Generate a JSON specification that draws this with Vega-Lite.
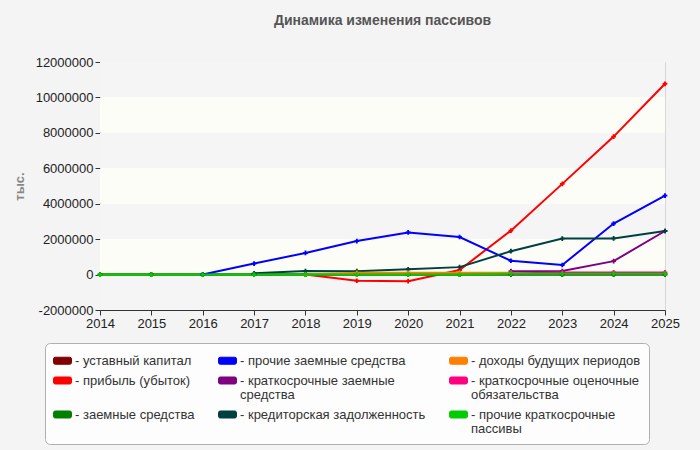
{
  "$schema": "https://vega.github.io/schema/vega-lite/v6.json",
  "width": 565,
  "height": 248,
  "autosize": {"type": "none"},
  "padding": {"left": 100, "top": 62, "right": 35, "bottom": 140},
  "background": "#f4f4f4",
  "title": {"text": "Динамика изменения пассивов", "font": "Liberation Sans", "fontSize": 14, "fontWeight": "bold", "color": "#555555", "anchor": "middle", "offset": 28},
  "config": {"view": {"stroke": "#d8d8d8", "fill": "#ffffff"}, "font": "Liberation Sans"},
  "datasets": {
    "bands": [
      {"year": 2014, "year2": 2025, "value": 10000000, "value2": 12000000, "kind": "h"},
      {"year": 2014, "year2": 2025, "value": 8000000, "value2": 10000000, "kind": "c"},
      {"year": 2014, "year2": 2025, "value": 6000000, "value2": 8000000, "kind": "h"},
      {"year": 2014, "year2": 2025, "value": 4000000, "value2": 6000000, "kind": "c"},
      {"year": 2014, "year2": 2025, "value": 2000000, "value2": 4000000, "kind": "h"},
      {"year": 2014, "year2": 2025, "value": 0, "value2": 2000000, "kind": "c"},
      {"year": 2014, "year2": 2025, "value": -2000000, "value2": 0, "kind": "h"}
    ],
    "gx": [{"year": 2015}, {"year": 2016}, {"year": 2017}, {"year": 2018}, {"year": 2019}, {"year": 2020}, {"year": 2021}, {"year": 2022}, {"year": 2023}, {"year": 2024}],
    "gy": [{"value": 0}, {"value": 2000000}, {"value": 4000000}, {"value": 6000000}, {"value": 8000000}, {"value": 10000000}],
    "series": [
      {"series": "уставный капитал", "year": 2014, "value": 10000},
      {"series": "уставный капитал", "year": 2015, "value": 10000},
      {"series": "уставный капитал", "year": 2016, "value": 10000},
      {"series": "уставный капитал", "year": 2017, "value": 10000},
      {"series": "уставный капитал", "year": 2018, "value": 10000},
      {"series": "уставный капитал", "year": 2019, "value": 10000},
      {"series": "уставный капитал", "year": 2020, "value": 10000},
      {"series": "уставный капитал", "year": 2021, "value": 10000},
      {"series": "уставный капитал", "year": 2022, "value": 10000},
      {"series": "уставный капитал", "year": 2023, "value": 10000},
      {"series": "уставный капитал", "year": 2024, "value": 10000},
      {"series": "уставный капитал", "year": 2025, "value": 10000},
      {"series": "прибыль (убыток)", "year": 2018, "value": 0},
      {"series": "прибыль (убыток)", "year": 2019, "value": -350000},
      {"series": "прибыль (убыток)", "year": 2020, "value": -370000},
      {"series": "прибыль (убыток)", "year": 2021, "value": 260000},
      {"series": "прибыль (убыток)", "year": 2022, "value": 2480000},
      {"series": "прибыль (убыток)", "year": 2023, "value": 5120000},
      {"series": "прибыль (убыток)", "year": 2024, "value": 7790000},
      {"series": "прибыль (убыток)", "year": 2025, "value": 10770000},
      {"series": "заемные средства", "year": 2014, "value": 0},
      {"series": "заемные средства", "year": 2015, "value": 0},
      {"series": "заемные средства", "year": 2016, "value": 0},
      {"series": "заемные средства", "year": 2017, "value": 0},
      {"series": "заемные средства", "year": 2018, "value": 0},
      {"series": "заемные средства", "year": 2019, "value": 0},
      {"series": "заемные средства", "year": 2020, "value": 0},
      {"series": "заемные средства", "year": 2021, "value": 0},
      {"series": "заемные средства", "year": 2022, "value": 0},
      {"series": "заемные средства", "year": 2023, "value": 0},
      {"series": "заемные средства", "year": 2024, "value": 0},
      {"series": "заемные средства", "year": 2025, "value": 0},
      {"series": "прочие заемные средства", "year": 2016, "value": 0},
      {"series": "прочие заемные средства", "year": 2017, "value": 620000},
      {"series": "прочие заемные средства", "year": 2018, "value": 1220000},
      {"series": "прочие заемные средства", "year": 2019, "value": 1890000},
      {"series": "прочие заемные средства", "year": 2020, "value": 2380000},
      {"series": "прочие заемные средства", "year": 2021, "value": 2120000},
      {"series": "прочие заемные средства", "year": 2022, "value": 780000},
      {"series": "прочие заемные средства", "year": 2023, "value": 540000},
      {"series": "прочие заемные средства", "year": 2024, "value": 2880000},
      {"series": "прочие заемные средства", "year": 2025, "value": 4460000},
      {"series": "краткосрочные заемные средства", "year": 2022, "value": 190000},
      {"series": "краткосрочные заемные средства", "year": 2023, "value": 200000},
      {"series": "краткосрочные заемные средства", "year": 2024, "value": 760000},
      {"series": "краткосрочные заемные средства", "year": 2025, "value": 2460000},
      {"series": "кредиторская задолженность", "year": 2017, "value": 70000},
      {"series": "кредиторская задолженность", "year": 2018, "value": 200000},
      {"series": "кредиторская задолженность", "year": 2019, "value": 190000},
      {"series": "кредиторская задолженность", "year": 2020, "value": 300000},
      {"series": "кредиторская задолженность", "year": 2021, "value": 420000},
      {"series": "кредиторская задолженность", "year": 2022, "value": 1320000},
      {"series": "кредиторская задолженность", "year": 2023, "value": 2030000},
      {"series": "кредиторская задолженность", "year": 2024, "value": 2040000},
      {"series": "кредиторская задолженность", "year": 2025, "value": 2460000},
      {"series": "доходы будущих периодов", "year": 2018, "value": 0},
      {"series": "доходы будущих периодов", "year": 2019, "value": 100000},
      {"series": "доходы будущих периодов", "year": 2020, "value": 100000},
      {"series": "доходы будущих периодов", "year": 2021, "value": 100000},
      {"series": "доходы будущих периодов", "year": 2022, "value": 100000},
      {"series": "краткосрочные оценочные обязательства", "year": 2022, "value": 60000},
      {"series": "краткосрочные оценочные обязательства", "year": 2023, "value": 120000},
      {"series": "краткосрочные оценочные обязательства", "year": 2024, "value": 120000},
      {"series": "краткосрочные оценочные обязательства", "year": 2025, "value": 120000},
      {"series": "прочие краткосрочные пассивы", "year": 2014, "value": 0},
      {"series": "прочие краткосрочные пассивы", "year": 2015, "value": 0},
      {"series": "прочие краткосрочные пассивы", "year": 2016, "value": 0},
      {"series": "прочие краткосрочные пассивы", "year": 2017, "value": 0},
      {"series": "прочие краткосрочные пассивы", "year": 2018, "value": 0},
      {"series": "прочие краткосрочные пассивы", "year": 2019, "value": 0},
      {"series": "прочие краткосрочные пассивы", "year": 2020, "value": 0},
      {"series": "прочие краткосрочные пассивы", "year": 2021, "value": 0},
      {"series": "прочие краткосрочные пассивы", "year": 2022, "value": 50000},
      {"series": "прочие краткосрочные пассивы", "year": 2023, "value": 50000},
      {"series": "прочие краткосрочные пассивы", "year": 2024, "value": 50000},
      {"series": "прочие краткосрочные пассивы", "year": 2025, "value": 50000}
    ]
  },
  "encoding": {
    "x": {
      "field": "year", "type": "quantitative",
      "scale": {"domain": [2014, 2025], "nice": false, "zero": false},
      "axis": {"values": [2014, 2015, 2016, 2017, 2018, 2019, 2020, 2021, 2022, 2023, 2024, 2025], "format": "d", "title": null, "grid": false, "domainColor": "#333333", "tickColor": "#333333", "tickSize": 5, "labelFontSize": 13, "labelColor": "#222222", "labelPadding": 2, "labelFont": "Liberation Sans", "labelFlush": false, "labelOverlap": false}
    },
    "y": {
      "field": "value", "type": "quantitative",
      "scale": {"domain": [-2000000, 12000000], "nice": false, "zero": false},
      "axis": {"values": [-2000000, 0, 2000000, 4000000, 6000000, 8000000, 10000000, 12000000], "labelExpr": "'' + datum.value", "title": "тыс.", "titleX": -81, "titleY": 124, "titleBaseline": "middle", "titleFontSize": 13, "titleColor": "#888888", "titleFontWeight": "bold", "titleFont": "Liberation Sans", "grid": false, "domainColor": "#333333", "tickColor": "#333333", "tickSize": 5, "labelFontSize": 13, "labelColor": "#222222", "labelPadding": 2, "labelFont": "Liberation Sans", "labelOverlap": false}
    }
  },
  "layer": [
    {
      "data": {"name": "bands"},
      "mark": {"type": "rect"},
      "encoding": {
        "x2": {"field": "year2"},
        "y2": {"field": "value2"},
        "fill": {"condition": {"test": "datum.kind == 'h'", "value": "#f5f5f5"}, "value": "#fdfdf8"}
      }
    },
    {
      "data": {"name": "gx"},
      "mark": {"type": "rule", "stroke": "#dddddd", "strokeDash": [4, 4], "strokeWidth": 1},
      "encoding": {"y": {"datum": -2000000}, "y2": {"datum": 12000000}}
    },
    {
      "data": {"name": "gy"},
      "mark": {"type": "rule", "stroke": "#dddddd", "strokeDash": [4, 4], "strokeWidth": 1},
      "encoding": {"x": {"datum": 2014}, "x2": {"datum": 2025}}
    },
    {
      "data": {"name": "series"},
      "encoding": {
        "color": {
          "field": "series", "type": "nominal",
          "scale": {
            "domain": ["уставный капитал", "прибыль (убыток)", "заемные средства", "прочие заемные средства", "краткосрочные заемные средства", "кредиторская задолженность", "доходы будущих периодов", "краткосрочные оценочные обязательства", "прочие краткосрочные пассивы"],
            "range": ["#800000", "#ff0000", "#008000", "#0000ff", "#800080", "#004040", "#ff8000", "#ff0080", "#00cc00"]
          },
          "legend": {
            "orient": "none", "legendX": -55, "legendY": 281, "columns": 3, "columnPadding": 21, "rowPadding": 3,
            "title": null, "padding": 8, "fillColor": "#fdfdfd", "strokeColor": "#b0b0b0", "cornerRadius": 5,
            "symbolType": "M-0.8,-0.39L0.8,-0.39Q1,-0.39 1,-0.19L1,0.19Q1,0.39 0.8,0.39L-0.8,0.39Q-1,0.39 -1,0.19L-1,-0.19Q-1,-0.39 -0.8,-0.39Z", "symbolSize": 324, "symbolStrokeColor": "#777777", "symbolStrokeWidth": 1,
            "labelFont": "Liberation Sans", "labelFontSize": 13, "labelColor": "#333333", "labelLimit": 400, "labelOffset": 3,
            "labelExpr": "datum.label == 'краткосрочные заемные средства' ? ['- краткосрочные заемные', '\u00a0\u00a0\u00a0средства'] : datum.label == 'краткосрочные оценочные обязательства' ? ['- краткосрочные оценочные', '\u00a0\u00a0\u00a0обязательства'] : datum.label == 'прочие краткосрочные пассивы' ? ['- прочие краткосрочные', '\u00a0\u00a0\u00a0пассивы'] : '- ' + datum.label",
            "encode": {"symbols": {"update": {"fill": {"scale": "color", "field": "value"}, "stroke": {"value": "#777777"}, "strokeWidth": {"value": 1}, "opacity": {"value": 1}}}, "labels": {"update": {"lineHeight": {"value": 14}}}}
          }
        }
      },
      "layer": [
        {
          "mark": {"type": "line", "strokeWidth": 2},
          "encoding": {
            "strokeWidth": {"condition": [{"test": "datum.series == 'прибыль (убыток)'", "value": 1.5}, {"test": "datum.series == 'прочие краткосрочные пассивы'", "value": 3}], "value": 2}
          }
        },
        {
          "mark": {"type": "point", "shape": "cross", "filled": true, "size": 22, "opacity": 1}
        }
      ]
    }
  ]
}
